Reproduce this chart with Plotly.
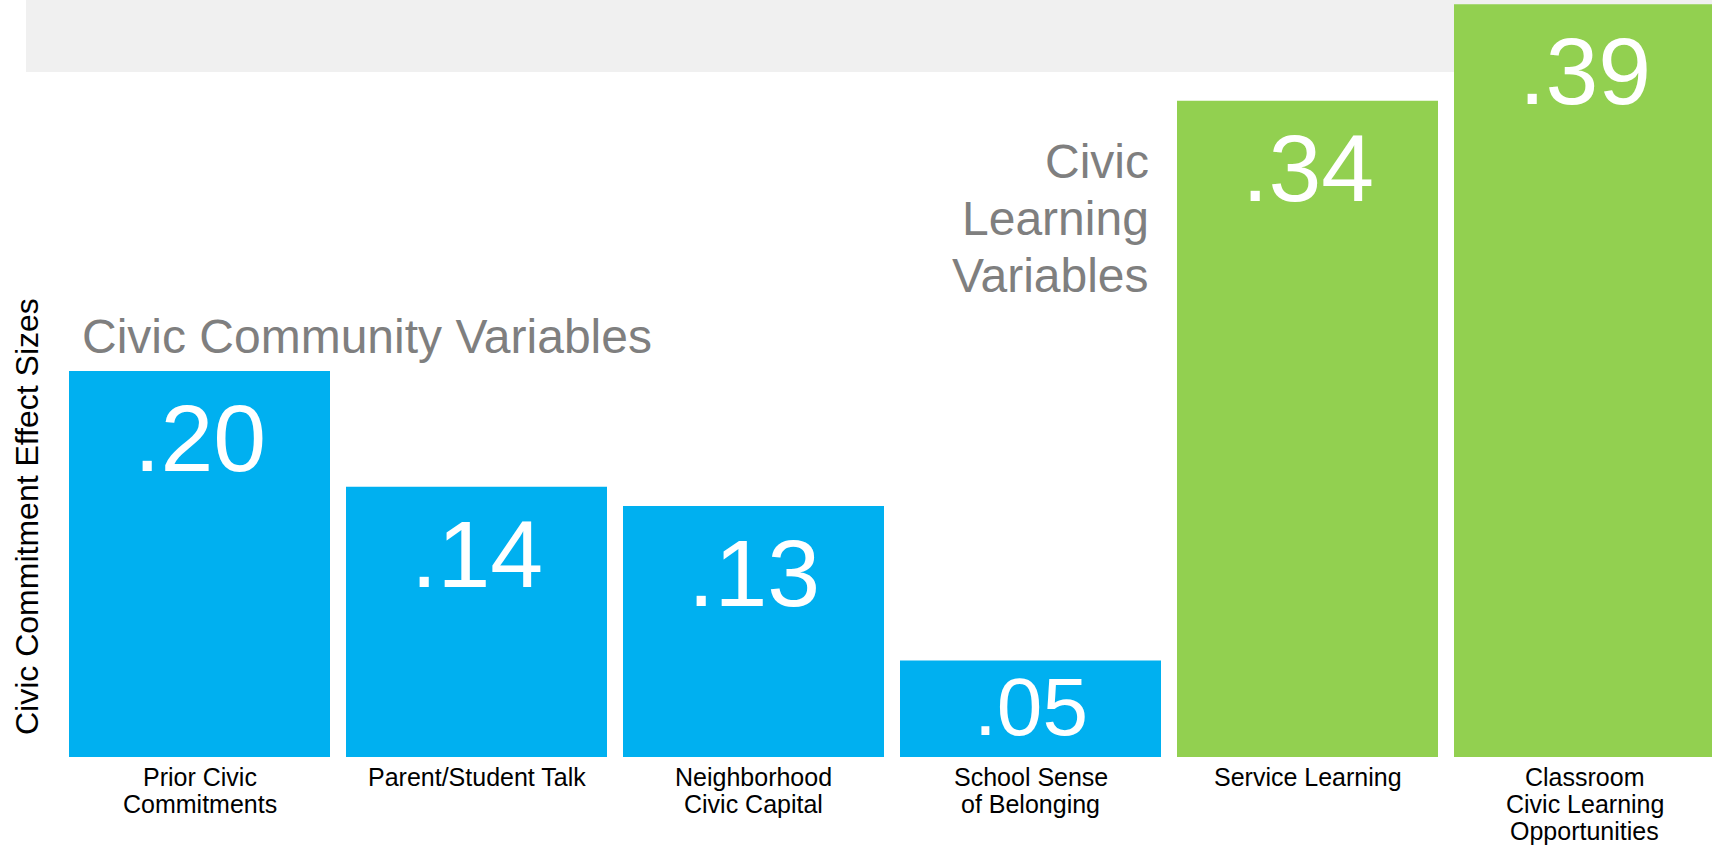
import plotly.graph_objects as go

# ---- data ----
categories = [
    "Prior Civic<br>Commitments",
    "Parent/Student Talk",
    "Neighborhood<br>Civic Capital",
    "School Sense<br>of Belonging",
    "Service Learning",
    "Classroom<br>Civic Learning<br>Opportunities",
]
effect_sizes = [0.20, 0.14, 0.13, 0.05, 0.34, 0.39]
value_labels = [".20", ".14", ".13", ".05", ".34", ".39"]
groups = ["community", "community", "community", "community", "learning", "learning"]
community_title = "Civic Community Variables"
learning_title_lines = ["Civic", "Learning", "Variables"]
y_title = "Civic Commitment Effect Sizes"

# ---- styles ----
BLUE = "#00B0F0"
GREEN = "#92D050"
GRAY_TEXT = "#7F7F7F"
FONT = "Liberation Sans, Arial, sans-serif"
W, H = 1712, 849
ML, MB = 61, 92
PW, PH = W - ML, H - MB  # plot area size in px
TICK_SIZE = 25
TICK_LINE = 27          # px between tick-label baselines
TICK_BASE = 786         # px of first tick-label baseline

def px_x(px):
    return (px - ML) / PW

def px_y(py):
    return 1 - py / PH

colors = [BLUE if g == "community" else GREEN for g in groups]
xs = list(range(len(categories)))
slot_px = 277.0
y_max = PH / 1930.0

fig = go.Figure(
    go.Bar(
        x=xs,
        y=effect_sizes,
        marker=dict(color=colors, line=dict(width=0)),
        width=261 / slot_px,
        hoverinfo="skip",
    )
)

annotations = []
# value labels inside bars
for x, v, lab in zip(xs, effect_sizes, value_labels):
    if v >= 0.1:
        annotations.append(dict(
            x=x, y=v, xref="x", yref="y", text=lab, showarrow=False,
            xanchor="center", yanchor="top", yshift=-12,
            font=dict(family=FONT, size=95, color="white"),
        ))
    else:
        annotations.append(dict(
            x=x, y=v / 2, xref="x", yref="y", text=lab, showarrow=False,
            xanchor="center", yanchor="middle", yshift=2,
            font=dict(family=FONT, size=82, color="white"),
        ))

# category labels under the bars (one line each, tight line spacing)
for x, cat in zip(xs, categories):
    for k, line in enumerate(cat.split("<br>")):
        base = TICK_BASE + TICK_LINE * k
        annotations.append(dict(
            x=x, y=px_y(base - 0.3465 * TICK_SIZE), xref="x", yref="paper",
            text=line, showarrow=False, xanchor="center", yanchor="middle",
            font=dict(family=FONT, size=TICK_SIZE, color="black"),
        ))

# group titles
annotations.append(dict(
    x=px_x(80), y=px_y(365), xref="paper", yref="paper", text=community_title,
    showarrow=False, xanchor="left", yanchor="bottom",
    font=dict(family=FONT, size=48, color=GRAY_TEXT),
))
for i, line in enumerate(learning_title_lines):
    annotations.append(dict(
        x=px_x(1151), y=px_y(190 + 57 * i), xref="paper", yref="paper", text=line,
        showarrow=False, xanchor="right", yanchor="bottom",
        font=dict(family=FONT, size=48, color=GRAY_TEXT),
    ))
# y-axis title
annotations.append(dict(
    x=px_x(27), y=px_y(517), xref="paper", yref="paper", text=y_title,
    showarrow=False, xanchor="center", yanchor="middle", textangle=-90,
    font=dict(family=FONT, size=32, color="black"),
))

fig.update_layout(
    width=W, height=H,
    margin=dict(l=ML, r=0, t=0, b=MB, pad=0),
    paper_bgcolor="white", plot_bgcolor="white",
    showlegend=False,
    annotations=annotations,
    shapes=[dict(
        type="rect", xref="paper", yref="paper",
        x0=px_x(26), x1=1, y0=px_y(72), y1=1,
        fillcolor="#F0F0F0", line=dict(width=0), layer="below",
    )],
    xaxis=dict(
        range=[-0.5, -0.5 + PW / slot_px],
        tickvals=xs, ticktext=categories, showticklabels=False,
        showgrid=False, zeroline=False, showline=False, ticks="",
        fixedrange=True, automargin=False,
    ),
    yaxis=dict(
        range=[0, y_max], showticklabels=False, showgrid=False,
        zeroline=False, showline=False, ticks="", fixedrange=True,
        automargin=False,
    ),
)

fig.write_html(
    "out.html",
    config={"displayModeBar": False},
    post_script="document.body.style.margin='0';document.body.style.overflow='hidden';",
)
